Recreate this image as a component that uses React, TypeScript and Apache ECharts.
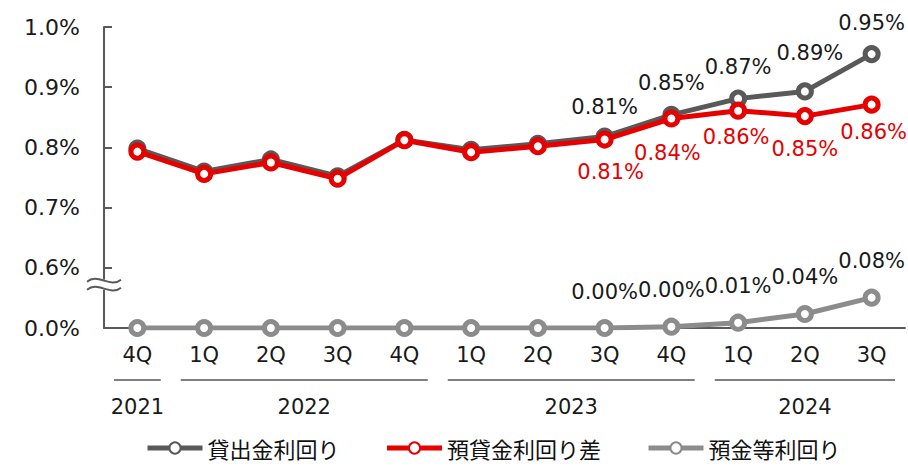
import React, { useEffect, useRef } from 'react';
import * as echarts from 'echarts';

// ---- data ----
const quarters = ['4Q', '1Q', '2Q', '3Q', '4Q', '1Q', '2Q', '3Q', '4Q', '1Q', '2Q', '3Q'];
const years = ['2021', '2022', '2023', '2024'];
const yearStart = [0, 1, 5, 9];
const yearSpan = [1, 4, 4, 3];

const seriesNames = ['貸出金利回り', '預貸金利回り差', '預金等利回り'];

// 貸出金利回り (%)
const loanYield = [0.798, 0.76, 0.78, 0.752, 0.8125, 0.796, 0.806, 0.818, 0.854, 0.881, 0.893, 0.955];
const loanYieldLabels = [null, null, null, null, null, null, null, '0.81%', '0.85%', '0.87%', '0.89%', '0.95%'];

// 預貸金利回り差 (%)
const spread = [0.793, 0.756, 0.775, 0.748, 0.812, 0.792, 0.802, 0.813, 0.848, 0.861, 0.852, 0.871];
const spreadLabels = [null, null, null, null, null, null, null, '0.81%', '0.84%', '0.86%', '0.85%', '0.86%'];

// 預金等利回り: position on the broken axis (0.5 = "0.0%" baseline)
const depositPlot = [0.5, 0.5, 0.5, 0.5, 0.5, 0.5, 0.5, 0.5, 0.5022, 0.5088, 0.5233, 0.5504];
const depositLabels = [null, null, null, null, null, null, null, '0.00%', '0.00%', '0.01%', '0.04%', '0.08%'];

const yMin = 0.5;
const yMax = 1.0;
const yInterval = 0.1;
const breakValue = 0.572;

const DARK = '#595959';
const RED = '#E60000';
const GRAY = '#8C8C8C';
const FONT = '"DejaVu Sans", Verdana, sans-serif';
const CJK = '"Noto Sans CJK JP", "Noto Sans", sans-serif';

function makeSeries(name: string, values: number[], labels: (string | null)[], color: string, pos: 'top' | 'bottom', dist: number, z: number, extraOffsets: Record<number, number[]> = {}) {
  return {
    name,
    type: 'line',
    z,
    data: values.map((v, i) => ({
      value: v,
      label: labels[i]
        ? { show: true, formatter: labels[i] as string, offset: extraOffsets[i] || [0, 0] }
        : { show: false },
    })),
    symbol: 'circle',
    symbolSize: 13,
    lineStyle: { color, width: 5 },
    itemStyle: { color: '#ffffff', borderColor: color, borderWidth: 5 },
    label: {
      position: pos,
      distance: dist,
      color: color === RED ? RED : '#1a1a1a',
      fontFamily: FONT,
      fontSize: 21,
    },
    emphasis: { disabled: true },
  };
}

export default function App() {
  const ref = useRef<HTMLDivElement>(null);
  useEffect(() => {
    document.body.style.margin = '0';
    if (!ref.current) return;
    const chart = echarts.init(ref.current, undefined, { renderer: 'svg' });
    chart.setOption({
      animation: false,
      grid: { left: 104, right: 3, top: 27, bottom: 138, containLabel: false },
      legend: {
        left: 140,
        top: 432,
        itemGap: 45,
        itemWidth: 55,
        itemHeight: 14,
        data: seriesNames,
        lineStyle: { width: 5 },
        textStyle: { fontFamily: CJK, fontSize: 22, lineHeight: 22, color: '#111111' },
      },
      xAxis: {
        type: 'category',
        data: quarters,
        boundaryGap: true,
        axisLine: { show: true, lineStyle: { color: DARK, width: 2 } },
        axisTick: { show: false },
        axisLabel: { color: '#1a1a1a', fontFamily: FONT, fontSize: 21, margin: 16 },
        splitLine: { show: false },
      },
      yAxis: {
        type: 'value',
        min: yMin,
        max: yMax,
        interval: yInterval,
        axisLine: { show: true, lineStyle: { color: DARK, width: 2 } },
        axisTick: { show: true, inside: true, length: 8, lineStyle: { color: DARK, width: 2 } },
        splitLine: { show: false },
        axisLabel: {
          color: '#1a1a1a',
          fontFamily: FONT,
          fontSize: 22,
          margin: 24,
          formatter: (v: number) => (v < yMin + 0.05 ? '0.0%' : v.toFixed(1) + '%'),
        },
      },
      series: [
        makeSeries(seriesNames[0], loanYield, loanYieldLabels, DARK, 'top', 12, 2, { 7: [0, 2], 10: [5, -7] }),
        makeSeries(seriesNames[1], spread, spreadLabels, RED, 'bottom', 13, 3, { 7: [6, 0], 8: [-4, 2], 9: [-2, -6], 11: [2, -5] }),
        makeSeries(seriesNames[2], depositPlot, depositLabels, GRAY, 'top', 17, 4),
      ],
    });

    const px = (i: number) => chart.convertToPixel({ xAxisIndex: 0 } as any, i) as number;
    const bw = px(1) - px(0);
    const inset = 10;
    const lineY = 380;
    const textY = 407;
    const graphics: any[] = [];
    years.forEach((y, g) => {
      const s = yearStart[g];
      const e = s + yearSpan[g] - 1;
      const x0 = px(s) - bw / 2 + inset;
      const x1 = px(e) + bw / 2 - inset;
      graphics.push({
        type: 'line',
        shape: { x1: x0, y1: lineY, x2: x1, y2: lineY },
        style: { stroke: '#7F7F7F', lineWidth: 2 },
      });
      graphics.push({
        type: 'text',
        x: (x0 + x1) / 2,
        y: textY,
        style: { text: y, fill: '#1a1a1a', font: `21px ${FONT}`, textAlign: 'center', textVerticalAlign: 'middle' },
      });
    });
    const axX = px(0) - bw / 2;
    const by = chart.convertToPixel({ yAxisIndex: 0 } as any, breakValue) as number;
    graphics.push({
      type: 'rect',
      shape: { x: axX - 4, y: by - 5, width: 8, height: 10 },
      style: { fill: '#ffffff' },
      z: 100,
    });
    [-4, 4].forEach((d) => {
      graphics.push({
        type: 'bezierCurve',
        shape: { x1: axX - 17, y1: by + d + 1, cpx1: axX - 6, cpy1: by + d - 8, cpx2: axX + 6, cpy2: by + d + 8, x2: axX + 17, y2: by + d - 1 },
        style: { stroke: DARK, lineWidth: 2, fill: 'none' },
        z: 101,
      });
    });
    chart.setOption({ graphic: graphics });

    return () => chart.dispose();
  }, []);
  return <div ref={ref} style={{ width: 908, height: 466 }} />;
}
